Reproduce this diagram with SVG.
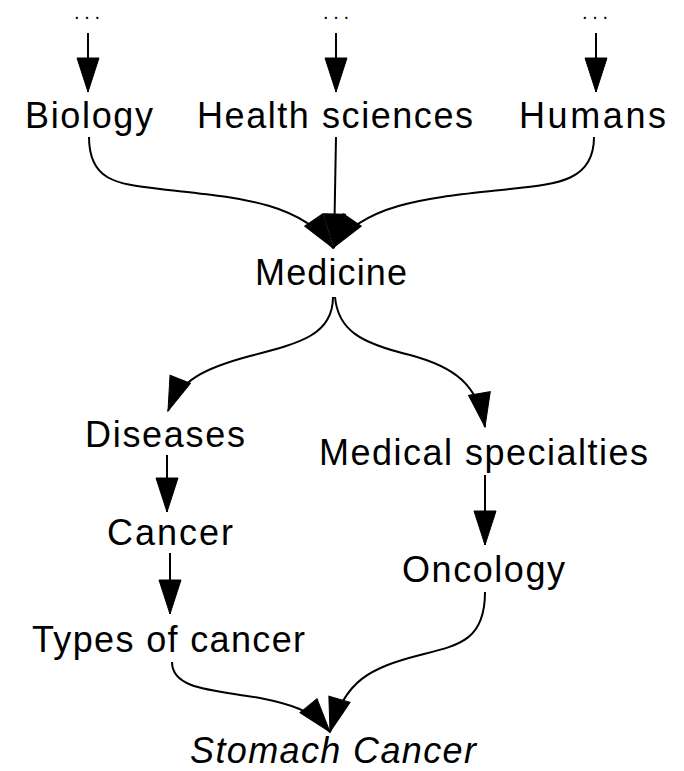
<svg xmlns="http://www.w3.org/2000/svg" width="684" height="771" viewBox="0 0 684 771">
<style>
text{font-family:"Liberation Sans",Arial,sans-serif;font-size:36px;fill:#000}
text.d{font-size:20px}
.it{font-style:italic}
.e{fill:none;stroke:#000;stroke-width:2;marker-end:url(#ah)}
</style>
<defs>
<marker id="ah" markerUnits="userSpaceOnUse" markerWidth="36" markerHeight="24" viewBox="-1 -1 36 24" refX="34" refY="11" orient="auto">
<path d="M0,0 L34,11 L0,22 Z" fill="#000" stroke="#000" stroke-width="1"/>
</marker>
</defs>
<rect width="684" height="771" fill="#fff"/>
<g id="connectors">
<path class="e" d="M88,33 L88,92"/>
<path class="e" d="M336,33 L336,92"/>
<path class="e" d="M596,33 L596,92"/>
<path class="e" d="M89,137 C89,180 115,184 160,189 C230,197 300,200 333,248"/>
<path class="e" d="M336,137 L334,248"/>
<path class="e" d="M594,137 C594,180 560,184 510,189 C440,197 366,200 333,248"/>
<path class="e" d="M333,297 C333,335 300,343 250,356 C205,368 180,380 168,411"/>
<path class="e" d="M335,297 C338,330 360,343 410,355 C455,367 478,385 485,427"/>
<path class="e" d="M167,455 L167,512"/>
<path class="e" d="M485,475 L485,545"/>
<path class="e" d="M170,553 L170,614"/>
<path class="e" d="M172,662 C172,690 215,690 260,698 C290,704 312,710 330,732"/>
<path class="e" d="M485,592 C485,640 460,645 420,655 C370,668 345,680 330,732"/>
</g>
<g id="dots1"><text class="d" x="74" y="19" textLength="26" lengthAdjust="spacing">...</text></g>
<g id="dots2"><text class="d" x="323" y="19" textLength="26" lengthAdjust="spacing">...</text></g>
<g id="dots3"><text class="d" x="582" y="19" textLength="26" lengthAdjust="spacing">...</text></g>
<g id="biology"><text x="25" y="128" textLength="128" lengthAdjust="spacing">Biology</text></g>
<g id="health-sciences"><text x="197" y="128" textLength="276" lengthAdjust="spacing">Health sciences</text></g>
<g id="humans"><text x="519" y="128" textLength="147" lengthAdjust="spacing">Humans</text></g>
<g id="medicine"><text x="255" y="285" textLength="152" lengthAdjust="spacing">Medicine</text></g>
<g id="diseases"><text x="85" y="447" textLength="160" lengthAdjust="spacing">Diseases</text></g>
<g id="medical-specialties"><text x="319" y="465" textLength="329" lengthAdjust="spacing">Medical specialties</text></g>
<g id="cancer"><text x="107" y="545" textLength="126" lengthAdjust="spacing">Cancer</text></g>
<g id="oncology"><text x="402" y="582" textLength="163" lengthAdjust="spacing">Oncology</text></g>
<g id="types-of-cancer"><text x="32" y="652" textLength="273" lengthAdjust="spacing">Types of cancer</text></g>
<g id="stomach-cancer"><text class="it" x="190" y="763" textLength="286" lengthAdjust="spacing">Stomach Cancer</text></g>
</svg>
